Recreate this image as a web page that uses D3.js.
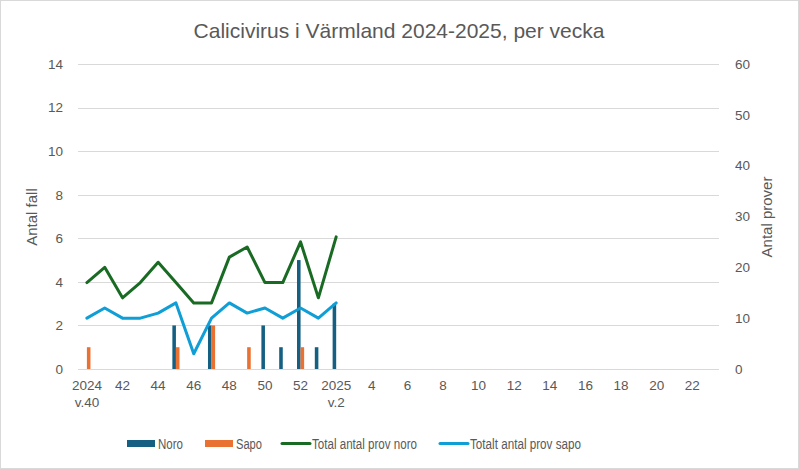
<!DOCTYPE html>
<html><head><meta charset="utf-8">
<script src="https://cdn.jsdelivr.net/npm/d3@7"></script>
<style>body{margin:0;background:#fff}svg{display:block}</style>
</head><body><svg id="c" width="799" height="469"></svg>
<script>
const weeks = ["40","41","42","43","44","45","46","47","48","49","50","51","52","1","2","3","4","5","6","7","8","9","10","11","12","13","14","15","16","17","18","19","20","21","22","23"];
const noro = [0,0,0,0,0,2,0,2,0,0,2,1,5,1,3];
const sapo = [1,0,0,0,0,1,0,2,0,1,0,0,1,0,0];
const provNoro = [17,20,14,17,21,17,13,13,22,24,17,17,25,14,26];
const provSapo = [10,12,10,10,11,13,3,10,13,11,12,10,12,10,13];
const xTickLabels = {"40":["2024","v.40"],"42":["42"],"44":["44"],"46":["46"],"48":["48"],"50":["50"],"52":["52"],"2":["2025","v.2"],"4":["4"],"6":["6"],"8":["8"],"10":["10"],"12":["12"],"14":["14"],"16":["16"],"18":["18"],"20":["20"],"22":["22"]};
const leftTicks = [0,2,4,6,8,10,12,14];
const rightTicks = [0,10,20,30,40,50,60];
const seriesNames = ["Noro","Sapo","Total antal prov noro","Totalt antal prov sapo"];
const colors = {noro:"#156082", sapo:"#E97132", provNoro:"#196B24", provSapo:"#0F9ED5"};

const svg = d3.select("#c");
const W=799,H=469, L=78, R=719, T=64, B=369;
const txt="#595959", tf="'Liberation Sans', Arial, sans-serif";

svg.append("rect").attr("x",0.5).attr("y",0.5).attr("width",W-1).attr("height",H-1).attr("fill","#fff").attr("stroke","#d9d9d9");

const x = d3.scaleBand().domain(weeks).range([L,R]).padding(0);
const yL = d3.scaleLinear().domain([0,14]).range([B,T]);
const yR = d3.scaleLinear().domain([0,60]).range([B,T]);
const inner = d3.scaleBand().domain(["noro","sapo"]).range([0, x.bandwidth()/2.5]);
const off = (x.bandwidth() - x.bandwidth()/2.5)/2;

// grid
svg.append("g").selectAll("line").data(leftTicks).join("line")
  .attr("x1",L).attr("x2",R).attr("y1",d=>Math.round(yL(d))+0.5).attr("y2",d=>Math.round(yL(d))+0.5)
  .attr("stroke","#d9d9d9").attr("stroke-width",1);

// left axis
const gl = svg.append("g").attr("transform",`translate(${L-15},0)`)
  .call(d3.axisLeft(yL).tickValues(leftTicks).tickSize(0).tickPadding(0));
gl.select(".domain").remove();
gl.selectAll("text").attr("fill",txt).style("font-family",tf).style("font-size","13.5px");

const gr = svg.append("g").attr("transform",`translate(${R+16},0)`)
  .call(d3.axisRight(yR).tickValues(rightTicks).tickSize(0).tickPadding(0));
gr.select(".domain").remove();
gr.selectAll("text").attr("fill",txt).style("font-family",tf).style("font-size","13.5px");

// x labels
const gx = svg.append("g");
weeks.forEach(w=>{
  const lab = xTickLabels[w]; if(!lab) return;
  const t = gx.append("text").attr("x",x(w)+x.bandwidth()/2).attr("y",390)
    .attr("text-anchor","middle").attr("fill",txt).style("font-family",tf).style("font-size","13.5px");
  lab.forEach((s,i)=>t.append("tspan").attr("x",x(w)+x.bandwidth()/2).attr("dy",i?17:0).text(s));
});

// bars
const bars = svg.append("g");
bars.selectAll("rect.n").data(noro.map((v,i)=>({w:weeks[i],v}))).join("rect")
  .filter(d=>d.v>0)
  .attr("x",d=>x(d.w)+off+inner("noro")).attr("width",inner.bandwidth())
  .attr("y",d=>yL(d.v)).attr("height",d=>yL(0)-yL(d.v)).attr("fill",colors.noro);
bars.selectAll("rect.s").data(sapo.map((v,i)=>({w:weeks[i],v}))).join("rect")
  .filter(d=>d.v>0)
  .attr("x",d=>x(d.w)+off+inner("sapo")).attr("width",inner.bandwidth())
  .attr("y",d=>yL(d.v)).attr("height",d=>yL(0)-yL(d.v)).attr("fill",colors.sapo);

// lines
const line = d3.line().x((d,i)=>x(weeks[i])+x.bandwidth()/2).y(d=>yR(d));
svg.append("path").datum(provNoro).attr("d",line).attr("fill","none").attr("stroke",colors.provNoro).attr("stroke-width",3).attr("stroke-linejoin","round").attr("stroke-linecap","round");
svg.append("path").datum(provSapo).attr("d",line).attr("fill","none").attr("stroke",colors.provSapo).attr("stroke-width",3).attr("stroke-linejoin","round").attr("stroke-linecap","round");

// title
svg.append("text").attr("x",399).attr("y",38).attr("text-anchor","middle").attr("fill",txt)
  .style("font-family",tf).style("font-size","21px").text("Calicivirus i Värmland 2024-2025, per vecka");

// axis titles
svg.append("text").attr("transform","translate(37,217) rotate(-90)").attr("text-anchor","middle").attr("fill",txt)
  .style("font-family",tf).style("font-size","15px").text("Antal fall");
svg.append("text").attr("transform","translate(772,217) rotate(-90)").attr("text-anchor","middle").attr("fill",txt)
  .style("font-family",tf).style("font-size","15px").text("Antal prover");

// legend
const lg = svg.append("g");
const items = [
  {name:seriesNames[0], type:"rect", c:colors.noro, x:127, w:105-80},
  {name:seriesNames[1], type:"rect", c:colors.sapo, x:205},
  {name:seriesNames[2], type:"line", c:colors.provNoro, x:281},
  {name:seriesNames[3], type:"line", c:colors.provSapo, x:439}
];
const textW = {"Noro":25,"Sapo":26,"Total antal prov noro":105,"Totalt antal prov sapo":111};
items.forEach(it=>{
  if(it.type==="rect") lg.append("rect").attr("x",it.x).attr("y",440).attr("width",28).attr("height",7).attr("fill",it.c);
  else lg.append("line").attr("x1",it.x+1).attr("x2",it.x+29).attr("y1",443.5).attr("y2",443.5).attr("stroke",it.c).attr("stroke-width",3).attr("stroke-linecap","round");
  lg.append("text").attr("x",it.x+31).attr("y",448.5).attr("fill",txt).style("font-family",tf).style("font-size","14px")
    .attr("textLength",textW[it.name]).attr("lengthAdjust","spacingAndGlyphs").text(it.name);
});
</script></body></html>
